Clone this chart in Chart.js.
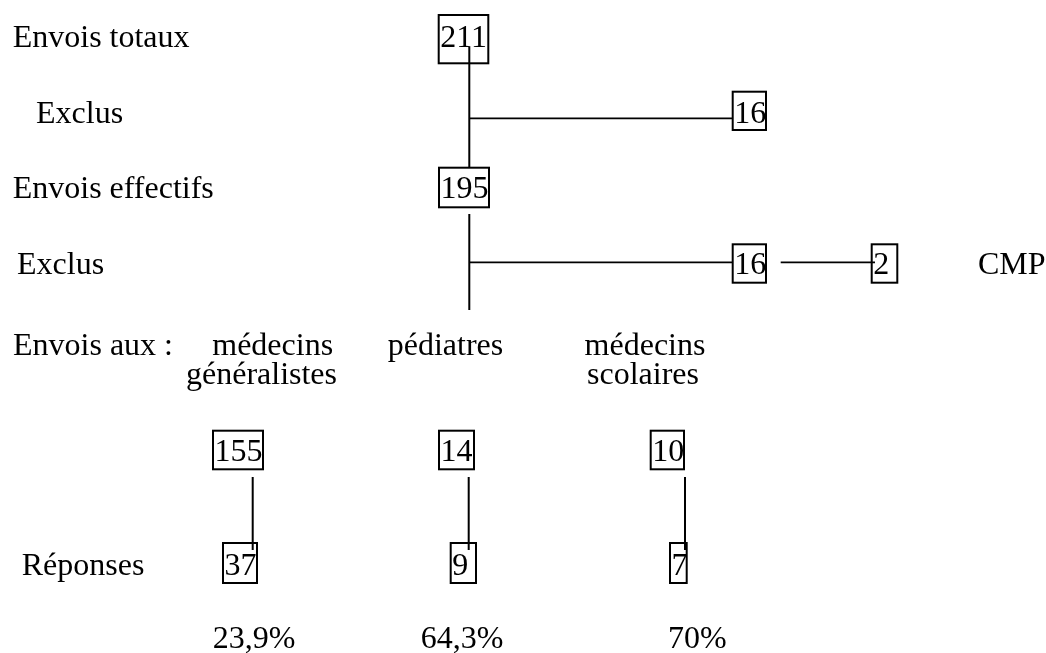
<!DOCTYPE html>
<html>
<head>
<meta charset="utf-8">
<script src="https://cdn.jsdelivr.net/npm/chart.js@4.4.0/dist/chart.umd.min.js"></script>
<style>
  html, body { margin: 0; padding: 0; background: #ffffff; }
  #wrap { width: 1046px; height: 653px; position: relative; }
</style>
</head>
<body>
<div id="wrap"><canvas id="c"></canvas></div>
<script>
// ---------------- DATA ----------------
const stageLabels = ["Envois totaux", "Exclus", "Envois effectifs", "Exclus", "Envois aux :", "Réponses"];
const flowTotals = [211, 195];
const excludedCounts = [16, 16];
const cmpCounts = [2];
const cmpLabels = ["CMP"];
const recipientGroups = [["médecins", "généralistes"], ["pédiatres"], ["médecins", "scolaires"]];
const sentCounts = [155, 14, 10];
const responseCounts = [37, 9, 7];
const responseRates = ["23,9%", "64,3%", "70%"];

// ---------------- LAYOUT (scale units) ----------------
const FONT = '32px "Liberation Serif", "Times New Roman", serif';
const stageAnchors = [
  { x: 12.7, y: 46.7 }, { x: 36, y: 122.7 }, { x: 12.7, y: 197.5 },
  { x: 17, y: 273.5 }, { x: 13, y: 355 }, { x: 21.7, y: 575 }
];
const totalBoxes = [ [438.7, 15, 488.3, 63.3, 46.7], [439, 167.7, 489, 207.3, 198] ];
const excludedBoxes = [ [732.7, 91.7, 766, 130, 122.7], [732.7, 244.3, 766, 282.7, 274] ];
const cmpBoxes = [ [871.7, 244.3, 897.3, 282.7, 274] ];
const cmpLabelAnchors = [ { x: 978, y: 273.5 } ];
const groupAnchors = [ { x: [272.7, 261.5] }, { x: [445.5] }, { x: [645, 643] } ];
const groupLineY = [355, 384];
const sentBoxes = [ [213, 430.7, 263, 469.3, 461], [439, 430.7, 474, 469.3, 461], [650.7, 430.7, 684, 469.3, 461] ];
const responseBoxes = [ [223, 543, 257, 583, 575], [450.7, 543, 476, 583, 575], [670, 543, 686.7, 583, 575] ];
const rateAnchors = [ { x: 212.7, y: 648 }, { x: 420.7, y: 648 }, { x: 668, y: 648 } ];
const trunkX = 469.3;
const branchX = [252.7, 468.7, 685];

// connectors derived from layout anchors
const connectors = [
  [[trunkX, 47], [trunkX, totalBoxes[1][1]]],
  [[trunkX, 118.3], [excludedBoxes[0][0], 118.3]],
  [[trunkX, 214], [trunkX, 310]],
  [[trunkX, 262.3], [excludedBoxes[1][0], 262.3]],
  [[780.7, 262.3], [cmpBoxes[0][0] + 3.3, 262.3]],
  ...branchX.map(x => [[x, 477], [x, 550]])
];

const datasets = connectors.map(seg => ({
  data: seg.map(p => ({ x: p[0], y: p[1] })),
  showLine: true,
  borderColor: '#000000',
  borderWidth: seg[0][1] === seg[1][1] ? 1.7 : 2,
  pointRadius: 0,
  fill: false
}));

const flowPlugin = {
  id: 'flow',
  afterDatasetsDraw(chart) {
    const { ctx, scales: { x, y } } = chart;
    ctx.save();
    ctx.font = FONT;
    ctx.fillStyle = '#000';
    ctx.strokeStyle = '#000';
    ctx.textBaseline = 'alphabetic';
    const text = (s, ax, ay, align) => {
      ctx.textAlign = align || 'left';
      ctx.fillText(s, x.getPixelForValue(ax), y.getPixelForValue(ay));
    };
    const box = (val, b) => {
      const x0 = x.getPixelForValue(b[0]), x1 = x.getPixelForValue(b[2]);
      const y0 = y.getPixelForValue(b[1]), y1 = y.getPixelForValue(b[3]);
      ctx.lineWidth = 2;
      ctx.strokeRect(x0, y0, x1 - x0, y1 - y0);
      ctx.textAlign = 'left';
      ctx.fillText(String(val), x0 + 1.5, y.getPixelForValue(b[4]));
    };
    stageLabels.forEach((s, i) => text(s, stageAnchors[i].x, stageAnchors[i].y));
    flowTotals.forEach((v, i) => box(v, totalBoxes[i]));
    excludedCounts.forEach((v, i) => box(v, excludedBoxes[i]));
    cmpCounts.forEach((v, i) => box(v, cmpBoxes[i]));
    cmpLabels.forEach((s, i) => text(s, cmpLabelAnchors[i].x, cmpLabelAnchors[i].y));
    recipientGroups.forEach((lines, i) => {
      lines.forEach((s, j) => text(s, groupAnchors[i].x[j], groupLineY[j], 'center'));
    });
    sentCounts.forEach((v, i) => box(v, sentBoxes[i]));
    responseCounts.forEach((v, i) => box(v, responseBoxes[i]));
    responseRates.forEach((s, i) => text(s, rateAnchors[i].x, rateAnchors[i].y));
    ctx.restore();
  }
};

new Chart(document.getElementById('c'), {
  type: 'scatter',
  data: { datasets },
  options: {
    responsive: true,
    maintainAspectRatio: false,
    animation: false,
    layout: { padding: 0 },
    plugins: { legend: { display: false }, tooltip: { enabled: false } },
    scales: {
      x: { type: 'linear', min: 0, max: 1046, display: false },
      y: { type: 'linear', min: 0, max: 653, reverse: true, display: false }
    }
  },
  plugins: [flowPlugin]
});
</script>
</body>
</html>
